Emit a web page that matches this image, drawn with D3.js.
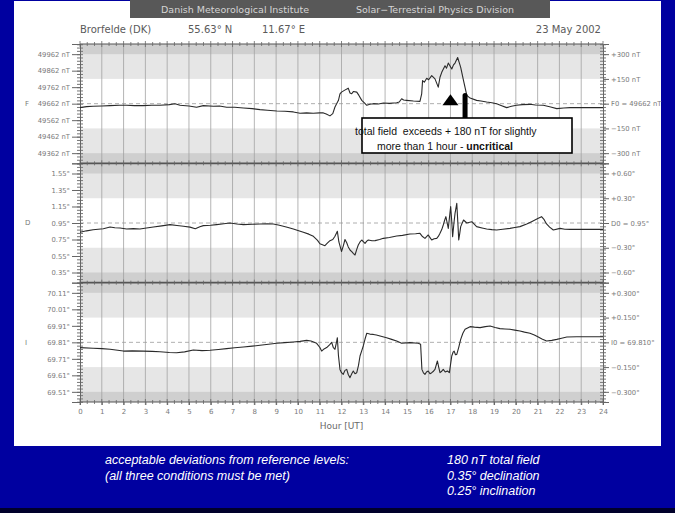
<!DOCTYPE html>
<html>
<head>
<meta charset="utf-8">
<script src="https://cdn.jsdelivr.net/npm/d3@7"></script>
<style>
  html, body { margin: 0; padding: 0; background: #0000a0; }
  svg { display: block; }
</style>
</head>
<body>
<svg id="chart" width="675" height="513"></svg>
<script>
// ---- Magnetogram, Brorfelde (DK), 23 May 2002 ----
const hourTicks = d3.range(0, 25);
const panelLetters = ["F", "D", "I"];
const baselines = [49662, 0.95, 69.81];
const labelSteps = [100, 0.2, 0.1];

const leftLabelsF = ["49962 nT", "49862 nT", "49762 nT", "49662 nT", "49562 nT", "49462 nT", "49362 nT"];
const leftLabelsD = ["1.55°", "1.35°", "1.15°", "0.95°", "0.75°", "0.55°", "0.35°"];
const leftLabelsI = ["70.11°", "70.01°", "69.91°", "69.81°", "69.71°", "69.61°", "69.51°"];
const rightLabelsF = ["+300 nT", "+150 nT", "F0 = 49662 nT", "\u2212150 nT", "\u2212300 nT"];
const rightLabelsD = ["+0.60°", "+0.30°", "D0 = 0.95°", "\u22120.30°", "\u22120.60°"];
const rightLabelsI = ["+0.300°", "+0.150°", "I0 = 69.810°", "\u22120.150°", "\u22120.300°"];

// deviation from baseline: [hour UT, nT]
const fDeviation = [
  [0,-24],[0.3,-18],[0.6,-16],[1.0,-14],[1.38,-12],[1.8,-10],[2.14,-10],[2.5,-12],[2.9,-12],
  [3.3,-10],[3.67,-10],[4.1,-6],[4.36,0],[4.59,-10],[5.0,-14],[5.35,-22],[5.66,-12],[6.12,-16],
  [6.4,-14],[6.73,-22],[7.1,-22],[7.5,-26],[7.9,-30],[8.26,-36],[8.6,-40],[9.03,-44],[9.4,-46],
  [9.79,-50],[10.1,-58],[10.4,-56],[10.7,-58],[11.0,-56],[11.17,-56],[11.3,-62],[11.47,-74],
  [11.6,-60],[11.7,-20],[11.86,20],[11.93,60],[12.0,70],[12.15,82],[12.31,94],[12.39,65],
  [12.47,60],[12.55,74],[12.7,70],[12.8,50],[12.93,20],[13.05,5],[13.16,-10],[13.3,-4],
  [13.46,0],[13.7,-2],[13.92,4],[14.2,2],[14.53,6],[14.65,10],[14.76,30],[14.85,22],[14.99,20],
  [15.3,16],[15.6,14],[15.68,60],[15.72,140],[15.8,130],[15.91,154],[16.0,145],[16.14,170],
  [16.29,150],[16.44,100],[16.52,160],[16.6,190],[16.75,230],[16.82,215],[16.9,246],[17.06,210],
  [17.14,235],[17.21,246],[17.33,280],[17.4,250],[17.47,220],[17.6,140],[17.75,50],[17.9,34],
  [18.2,20],[18.4,16],[18.66,10],[18.9,6],[19.12,0],[19.35,-12],[19.58,-24],[19.8,-16],
  [20.03,-10],[20.3,-6],[20.65,-4],[20.9,-8],[21.26,-10],[21.6,-20],[21.88,-30],[22.2,-26],
  [22.49,-24],[22.8,-24],[24,-24]
];

// deviation from baseline: [hour UT, degrees]
const dDeviation = [
  [0,-0.113],[0.3,-0.095],[0.6,-0.081],[1.07,-0.069],[1.38,-0.049],[1.6,-0.058],[1.84,-0.061],
  [2.14,-0.073],[2.45,-0.068],[2.75,-0.073],[3.05,-0.060],[3.37,-0.049],[3.75,-0.035],[4.13,-0.020],
  [4.45,-0.030],[4.75,-0.040],[5.05,-0.050],[5.29,-0.069],[5.5,-0.045],[5.66,-0.032],[6.0,-0.028],
  [6.27,-0.020],[6.6,-0.010],[6.88,0],[7.2,-0.012],[7.5,-0.020],[7.9,-0.016],[8.26,-0.012],
  [8.6,-0.010],[8.87,-0.012],[9.1,-0.025],[9.33,-0.040],[9.55,-0.055],[9.79,-0.073],[10.0,-0.090],
  [10.25,-0.113],[10.5,-0.135],[10.71,-0.162],[10.9,-0.210],[11.01,-0.251],[11.24,-0.275],
  [11.35,-0.245],[11.47,-0.214],[11.6,-0.200],[11.7,-0.160],[11.81,-0.101],[11.88,-0.230],
  [12.0,-0.345],[12.08,-0.280],[12.16,-0.200],[12.24,-0.240],[12.31,-0.290],[12.4,-0.330],
  [12.47,-0.347],[12.55,-0.370],[12.62,-0.388],[12.7,-0.320],[12.77,-0.267],[12.85,-0.230],
  [12.93,-0.206],[13.0,-0.225],[13.08,-0.246],[13.16,-0.220],[13.23,-0.206],[13.4,-0.215],
  [13.54,-0.214],[13.75,-0.200],[13.92,-0.186],[14.2,-0.175],[14.53,-0.158],[14.8,-0.150],
  [15.14,-0.133],[15.4,-0.130],[15.6,-0.125],[15.7,-0.160],[15.83,-0.186],[15.98,-0.145],
  [16.07,-0.180],[16.14,-0.206],[16.25,-0.190],[16.37,-0.186],[16.45,-0.160],[16.52,-0.125],
  [16.6,-0.080],[16.67,-0.024],[16.73,0.030],[16.79,0.077],[16.85,0.000],[16.9,-0.065],
  [16.96,0.080],[17.01,0.198],[17.06,0.020],[17.1,-0.166],[17.16,0.000],[17.21,0.117],
  [17.29,0.238],[17.34,0.000],[17.38,-0.206],[17.43,-0.120],[17.47,-0.044],[17.6,0.036],
  [17.75,0],[17.98,0.016],[18.2,-0.044],[18.45,-0.060],[18.66,-0.073],[18.9,-0.080],
  [19.12,-0.085],[19.4,-0.075],[19.73,-0.065],[19.95,-0.055],[20.19,-0.044],[20.5,-0.012],
  [20.72,0.016],[21.03,0.057],[21.18,0.077],[21.3,0.040],[21.41,-0.012],[21.55,-0.050],
  [21.72,-0.085],[22.03,-0.065],[22.25,-0.075],[22.49,-0.077],[22.8,-0.077],[24,-0.077]
];

// deviation from baseline: [hour UT, degrees]
const iDeviation = [
  [0,-0.032],[0.6,-0.036],[1.0,-0.038],[1.38,-0.042],[1.99,-0.053],[2.4,-0.052],[2.9,-0.053],
  [3.3,-0.055],[3.67,-0.057],[4.1,-0.062],[4.43,-0.063],[4.8,-0.058],[5.2,-0.046],[5.6,-0.050],
  [5.97,-0.048],[6.35,-0.043],[6.73,-0.038],[7.1,-0.033],[7.5,-0.028],[7.9,-0.023],[8.26,-0.018],
  [8.65,-0.012],[9.03,-0.006],[9.4,-0.002],[9.79,0.002],[10.1,0.006],[10.4,0.012],[10.6,0.008],
  [10.86,-0.006],[11.0,-0.030],[11.09,-0.053],[11.2,-0.040],[11.32,-0.032],[11.45,-0.015],
  [11.55,0],[11.62,-0.030],[11.7,-0.042],[11.78,0.008],[11.81,0.028],[11.86,-0.080],[11.93,-0.164],
  [12.0,-0.184],[12.08,-0.194],[12.16,-0.170],[12.24,-0.164],[12.31,-0.195],[12.39,-0.214],
  [12.47,-0.190],[12.54,-0.174],[12.62,-0.190],[12.7,-0.184],[12.78,-0.140],[12.85,-0.083],
  [12.93,-0.050],[13.0,-0.022],[13.08,0.020],[13.16,0.055],[13.3,0.050],[13.46,0.048],[13.6,0.044],
  [13.77,0.038],[14.07,0.028],[14.3,0.018],[14.53,0.008],[14.76,-0.006],[15.14,-0.002],
  [15.52,-0.006],[15.63,-0.012],[15.69,-0.164],[15.76,-0.185],[15.83,-0.194],[15.9,-0.180],
  [15.98,-0.174],[16.06,-0.190],[16.14,-0.184],[16.22,-0.175],[16.29,-0.164],[16.4,-0.113],
  [16.46,-0.150],[16.52,-0.184],[16.6,-0.175],[16.67,-0.164],[16.76,-0.180],[16.86,-0.174],
  [16.95,-0.184],[17.06,-0.083],[17.12,-0.060],[17.17,-0.053],[17.23,-0.075],[17.29,-0.073],
  [17.38,-0.030],[17.47,0.018],[17.57,0.055],[17.67,0.079],[17.9,0.095],[18.1,0.092],[18.36,0.089],
  [18.6,0.095],[18.82,0.099],[19.05,0.090],[19.27,0.083],[19.5,0.081],[19.73,0.079],[19.95,0.074],
  [20.19,0.069],[20.4,0.062],[20.65,0.055],[20.85,0.045],[21.03,0.032],[21.2,0.020],[21.41,0.008],
  [21.65,0.012],[21.88,0.018],[22.1,0.025],[22.34,0.032],[22.8,0.034],[24,0.034]
];

const leftLabels = [leftLabelsF, leftLabelsD, leftLabelsI];
const rightLabels = [rightLabelsF, rightLabelsD, rightLabelsI];
const deviations = [fDeviation, dDeviation, iDeviation];

// annotation for the total-field excursion
const noteHourTriangle = 17.0;
const noteHourBar = 17.67;
const noteLine1 = "total field  exceeds + 180 nT for slightly";
const noteLine2a = "more than 1 hour - ";
const noteLine2b = "uncritical";

const limitsLeft = ["acceptable deviations from reference levels:", "(all three conditions must be met)"];
const limitsRight = ["180 nT total field", "0.35° declination", "0.25° inclination"];

// ---- layout ----
const W = 675, H = 513;
const svg = d3.select("#chart");
const axisFont = "DejaVu Sans, sans-serif";
const axisColor = "#7a7a7a";

svg.append("rect").attr("width", W).attr("height", H).attr("fill", "#0000a0");
svg.append("rect").attr("x", 14).attr("y", 1).attr("width", 647).attr("height", 445).attr("fill", "#fff");
svg.append("rect").attr("x", 0).attr("y", 508).attr("width", W).attr("height", 5).attr("fill", "#00002a");

// header bar
svg.append("rect").attr("x", 130).attr("y", 0).attr("width", 420).attr("height", 18).attr("fill", "#585858");
svg.append("text").attr("x", 235).attr("y", 13).attr("text-anchor", "middle")
  .attr("font-family", axisFont).attr("font-size", 9.5).attr("fill", "#d4d4d4")
  .text("Danish Meteorological Institute");
svg.append("text").attr("x", 435).attr("y", 13).attr("text-anchor", "middle")
  .attr("font-family", axisFont).attr("font-size", 9.5).attr("fill", "#d4d4d4")
  .text("Solar\u2212Terrestrial Physics Division");

const headerStyle = sel => sel.attr("font-family", axisFont).attr("font-size", 10).attr("fill", "#5a5a5a");
svg.append("text").attr("x", 80).attr("y", 33).call(headerStyle).text("Brorfelde (DK)");
svg.append("text").attr("x", 188).attr("y", 33).call(headerStyle).text("55.63° N");
svg.append("text").attr("x", 262).attr("y", 33).call(headerStyle).text("11.67° E");
svg.append("text").attr("x", 601).attr("y", 33).attr("text-anchor", "end").call(headerStyle).text("23 May 2002");

const plotLeft = 80, plotRight = 603, plotTop = 44, plotBottom = 402;
const panelH = (plotBottom - plotTop) / 3;
const x = d3.scaleLinear().domain([0, 24]).range([plotLeft, plotRight]);

const g = svg.append("g");
const yScales = [];

panelLetters.forEach((letter, k) => {
  const top = plotTop + k * panelH, bottom = top + panelH;
  const base = baselines[k], s = labelSteps[k];
  const y = d3.scaleLinear().domain([base - 3.616 * s, base + 3.616 * s]).range([bottom, top]);
  yScales.push(y);
  const p = g.append("g");

  // reference bands
  p.append("rect").attr("x", plotLeft).attr("y", top).attr("width", plotRight - plotLeft)
    .attr("height", panelH).attr("fill", "#cfcfcf");
  p.append("rect").attr("x", plotLeft).attr("y", y(base + 3 * s)).attr("width", plotRight - plotLeft)
    .attr("height", y(base - 3 * s) - y(base + 3 * s)).attr("fill", "#e6e6e6");
  p.append("rect").attr("x", plotLeft).attr("y", y(base + 1.5 * s)).attr("width", plotRight - plotLeft)
    .attr("height", y(base - 1.5 * s) - y(base + 1.5 * s)).attr("fill", "#ffffff");

  // hourly grid
  p.selectAll("line.grid").data(hourTicks.slice(1, -1)).join("line")
    .attr("x1", d => x(d)).attr("x2", d => x(d)).attr("y1", top).attr("y2", bottom)
    .attr("stroke", "#a2a2a2").attr("stroke-width", 0.8);

  // baseline
  p.append("line").attr("x1", plotLeft).attr("x2", plotRight).attr("y1", y(base)).attr("y2", y(base))
    .attr("stroke", "#9a9a9a").attr("stroke-width", 0.8).attr("stroke-dasharray", "4,3");

  // left axis
  const leftVals = d3.range(3, -4, -1).map(i => base + i * s);
  const minorVals = d3.range(-18, 19).map(i => base + i * s / 5);
  p.append("g").attr("transform", `translate(${plotLeft},0)`)
    .call(d3.axisLeft(y).tickValues(minorVals).tickSize(3).tickFormat(""))
    .call(a => a.select(".domain").remove())
    .call(a => a.selectAll("line").attr("stroke", "#777").attr("x2", -3).attr("x1", 3));
  p.append("g").attr("transform", `translate(${plotLeft},0)`)
    .call(d3.axisLeft(y).tickValues(leftVals).tickSize(8).tickPadding(2).tickFormat((d, i) => leftLabels[k][i]))
    .call(a => a.select(".domain").attr("stroke", "#666"))
    .call(a => a.selectAll("line").attr("stroke", "#666"))
    .call(a => a.selectAll("text").attr("font-family", axisFont).attr("font-size", 6.8).attr("fill", axisColor));
  p.append("text").attr("x", 25).attr("y", y(base)).attr("dy", "0.32em")
    .attr("font-family", axisFont).attr("font-size", 7).attr("fill", axisColor).text(letter);

  // right axis
  const rightVals = [3, 1.5, 0, -1.5, -3].map(i => base + i * s);
  p.append("g").attr("transform", `translate(${plotRight},0)`)
    .call(d3.axisRight(y).tickValues(minorVals).tickSize(3).tickFormat(""))
    .call(a => a.select(".domain").remove())
    .call(a => a.selectAll("line").attr("stroke", "#777").attr("x1", -3).attr("x2", 3));
  p.append("g").attr("transform", `translate(${plotRight},0)`)
    .call(d3.axisRight(y).tickValues(rightVals).tickSize(6).tickPadding(2).tickFormat((d, i) => rightLabels[k][i]))
    .call(a => a.select(".domain").attr("stroke", "#666"))
    .call(a => a.selectAll("line").attr("stroke", "#666"))
    .call(a => a.selectAll("text").attr("font-family", axisFont).attr("font-size", 6.8).attr("fill", axisColor));

  // recording
  const line = d3.line().x(d => x(d[0])).y(d => y(base + d[1]));
  p.append("path").datum(deviations[k]).attr("d", line)
    .attr("fill", "none").attr("stroke", "#2a2a2a").attr("stroke-width", 1.1).attr("stroke-linejoin", "round");
});

// panel borders with time ticks
const minorHours = d3.range(0, 24.01, 1 / 3);
[0, 1, 2, 3].forEach(k => {
  const yy = plotTop + k * panelH;
  g.append("line").attr("x1", plotLeft).attr("x2", plotRight).attr("y1", yy).attr("y2", yy)
    .attr("stroke", "#555").attr("stroke-width", k === 0 || k === 3 ? 1.2 : 1.6);
  g.selectAll(null).data(minorHours).join("line")
    .attr("x1", d => x(d)).attr("x2", d => x(d))
    .attr("y1", d => yy - (Math.abs(d - Math.round(d)) < 1e-6 ? 3 : 2))
    .attr("y2", d => yy + (Math.abs(d - Math.round(d)) < 1e-6 ? 3 : 2))
    .attr("stroke", "#666").attr("stroke-width", 0.8);
});

// time axis
g.append("g").attr("transform", `translate(0,${plotBottom})`)
  .call(d3.axisBottom(x).tickValues(hourTicks).tickSize(3).tickPadding(4).tickFormat(d3.format("d")))
  .call(a => a.select(".domain").remove())
  .call(a => a.selectAll("line").attr("stroke", "#666"))
  .call(a => a.selectAll("text").attr("font-family", axisFont).attr("font-size", 7).attr("fill", axisColor));
svg.append("text").attr("x", x(12)).attr("y", 429).attr("text-anchor", "middle")
  .attr("font-family", axisFont).attr("font-size", 9).attr("fill", "#6a6a6a").text("Hour  [UT]");

// annotation
const yF = yScales[0];
const fBase = baselines[0];
const tx = x(noteHourTriangle);
svg.append("path")
  .attr("d", `M${tx},${yF(fBase + 57)} L${tx + 8},${yF(fBase - 9)} L${tx - 8},${yF(fBase - 9)} Z`)
  .attr("fill", "#000");
const bx = x(noteHourBar);
svg.append("line").attr("x1", bx).attr("x2", bx).attr("y1", yF(fBase + 50)).attr("y2", 118)
  .attr("stroke", "#000").attr("stroke-width", 5).attr("stroke-linecap", "round");
svg.append("rect").attr("x", 362).attr("y", 118).attr("width", 210).attr("height", 35)
  .attr("fill", "#fff").attr("stroke", "#000").attr("stroke-width", 1.6);
const noteFont = "Liberation Sans, Arial, sans-serif";
svg.append("text").attr("x", 355).attr("y", 135).attr("font-family", noteFont).attr("font-size", 10.5)
  .attr("fill", "#111").attr("xml:space", "preserve").style("white-space", "pre").text(noteLine1);
const t2 = svg.append("text").attr("x", 377).attr("y", 150).attr("font-family", noteFont)
  .attr("font-size", 10.5).attr("fill", "#111");
t2.append("tspan").text(noteLine2a);
t2.append("tspan").attr("font-weight", "bold").text(noteLine2b);

// limits footer
const footFont = "Liberation Sans, Arial, sans-serif";
limitsLeft.forEach((t, i) => {
  svg.append("text").attr("x", 105).attr("y", 464 + i * 15.5).attr("font-family", footFont)
    .attr("font-size", 12.5).attr("font-style", "italic").attr("fill", "#fff").text(t);
});
limitsRight.forEach((t, i) => {
  svg.append("text").attr("x", 447).attr("y", 464 + i * 15.5).attr("font-family", footFont)
    .attr("font-size", 12.5).attr("font-style", "italic").attr("fill", "#fff").text(t);
});
</script>
</body>
</html>
